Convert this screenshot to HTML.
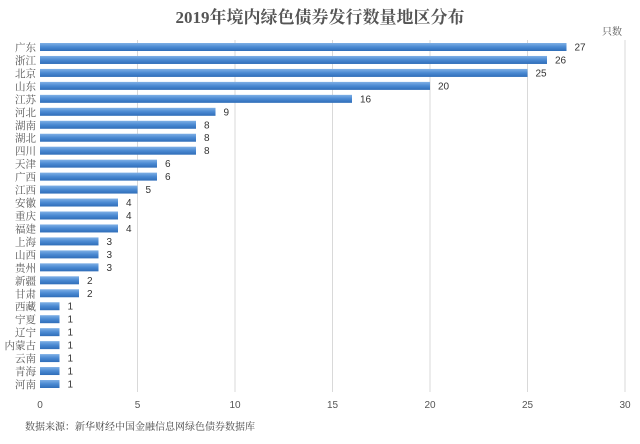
<!DOCTYPE html>
<html><head><meta charset="utf-8"><style>
body{margin:0;background:#fff;}
text{font-family:"Liberation Sans","Noto Serif CJK SC",serif;}
text.s{font-family:"Liberation Serif","Noto Serif CJK SC",serif;}
</style></head><body>
<svg width="640" height="439" xmlns="http://www.w3.org/2000/svg">
<defs><linearGradient id="g" x1="0" y1="0" x2="0" y2="1">
<stop offset="0" stop-color="#7fb0e6"/><stop offset="0.5" stop-color="#4a89d2"/><stop offset="1" stop-color="#2f6db8"/></linearGradient></defs>
<text class="s" x="320" y="23" text-anchor="middle" font-size="17" font-weight="bold" fill="#555">2019年境内绿色债券发行数量地区分布</text>
<text class="s" x="612" y="35" text-anchor="middle" font-size="10" fill="#555">只数</text>
<g stroke="#d9d9d9" stroke-width="1">
<line x1="137.5" y1="40" x2="137.5" y2="392"/><line x1="235" y1="40" x2="235" y2="392"/><line x1="332.5" y1="40" x2="332.5" y2="392"/><line x1="430" y1="40" x2="430" y2="392"/><line x1="527.5" y1="40" x2="527.5" y2="392"/><line x1="625" y1="40" x2="625" y2="392"/>
</g>
<g font-size="10" fill="#555" text-anchor="middle">
<text x="40" y="408">0</text><text x="137.5" y="408">5</text><text x="235" y="408">10</text><text x="332.5" y="408">15</text><text x="430" y="408">20</text><text x="527.5" y="408">25</text><text x="625" y="408">30</text>
</g>
<text class="s" x="25" y="430" font-size="10" fill="#444">数据来源：新华财经中国金融信息网绿色债券数据库</text>
<g id="bars"></g>
</svg>
<script>
var d=[["广东",27],["浙江",26],["北京",25],["山东",20],["江苏",16],["河北",9],["湖南",8],["湖北",8],["四川",8],["天津",6],["广西",6],["江西",5],["安徽",4],["重庆",4],["福建",4],["上海",3],["山西",3],["贵州",3],["新疆",2],["甘肃",2],["西藏",1],["宁夏",1],["辽宁",1],["内蒙古",1],["云南",1],["青海",1],["河南",1]];
var g=document.getElementById("bars"),s="",n=d.length,step=(384-47)/(n-1);
for(var i=0;i<n;i++){var y=47+i*step,w=d[i][1]*19.5;
s+='<rect x="40" y="'+(y-4)+'" width="'+w+'" height="8" fill="url(#g)"/>';
s+='<text x="'+(44+w+4)+'" y="'+(y+3.5)+'" font-size="10" fill="#333">'+d[i][1]+'</text>';
s+='<text class="s" x="36" y="'+(y+4)+'" font-size="10.5" fill="#555" text-anchor="end">'+d[i][0]+'</text>';}
g.innerHTML=s;
</script>
</body></html>
